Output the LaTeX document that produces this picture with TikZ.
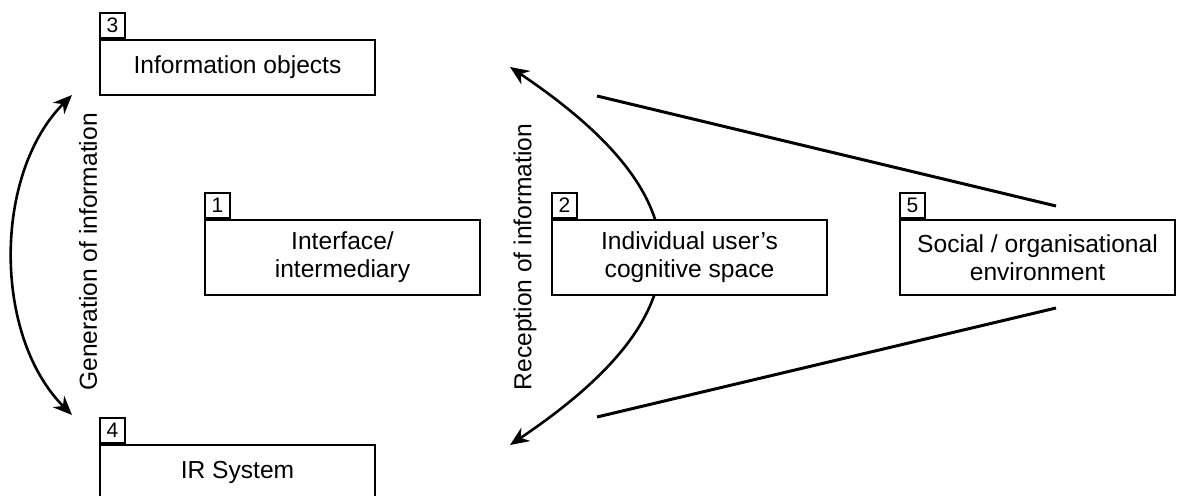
\documentclass[tikz,border=0pt]{standalone}
\usepackage{fontspec}
\setmainfont{Liberation Sans}
\usetikzlibrary{arrows.meta}
\begin{document}
\begin{tikzpicture}[x=0.5pt,y=-0.5pt,
  box/.style={draw, line width=1pt, fill=white, minimum width=137.5pt, align=center,
    font=\fontsize{12.3}{14}\selectfont, inner sep=0pt, anchor=north west},
  numbox/.style={draw, line width=1pt, fill=white, minimum width=12.5pt, minimum height=12.5pt,
    inner sep=0pt, font=\fontsize{10.5}{11}\selectfont, anchor=south west},
  curvearrow/.style={line width=1.3pt, {Stealth[length=9.5pt,width=8pt]}-{Stealth[length=9.5pt,width=8pt]}},
  envline/.style={line width=1.5pt},
  lbl/.style={rotate=90, font=\fontsize{12.3}{14}\selectfont, inner sep=0pt}]
\useasboundingbox (0,0) rectangle (1177,496);
% arrow end points
\coordinate (gtop) at (72,95);
\coordinate (gbot) at (72,415);
\coordinate (rtop) at (510,67);
\coordinate (rbot) at (510,445);
\coordinate (ltop) at (597,96);
\coordinate (lbot) at (597,417);
\coordinate (etop) at (1056,206);
\coordinate (ebot) at (1056,308);
% curves
\draw[curvearrow] (gtop) .. controls (-7,174) and (-7,336) .. (gbot);
\draw[curvearrow] (rtop) .. controls (708,200) and (708,312) .. (rbot);
\draw[envline] (ltop) -- (etop);
\draw[envline] (lbot) -- (ebot);
% boxes
\node[box, minimum height=27.5pt] (b3) at (99,39) {Information objects};
\node[numbox] (n3) at (b3.north west) {3};
\node[box, minimum height=37.5pt] (b1) at (204,219) {Interface/\\intermediary};
\node[numbox] (n1) at (b1.north west) {1};
\node[box, minimum height=37.5pt] (b2) at (551,219) {Individual user’s\\cognitive space};
\node[numbox] (n2) at (b2.north west) {2};
\node[box, minimum height=37.5pt] (b5) at (899,219) {Social / organisational\\environment};
\node[numbox] (n5) at (b5.north west) {5};
\node[box, minimum height=27.5pt] (b4) at (99,444) {IR System};
\node[numbox] (n4) at (b4.north west) {4};
% labels
\node[lbl] (lg) at (88,252) {Generation of information};
\node[lbl] (lr) at (525,257) {Reception of information};
\end{tikzpicture}
\end{document}
